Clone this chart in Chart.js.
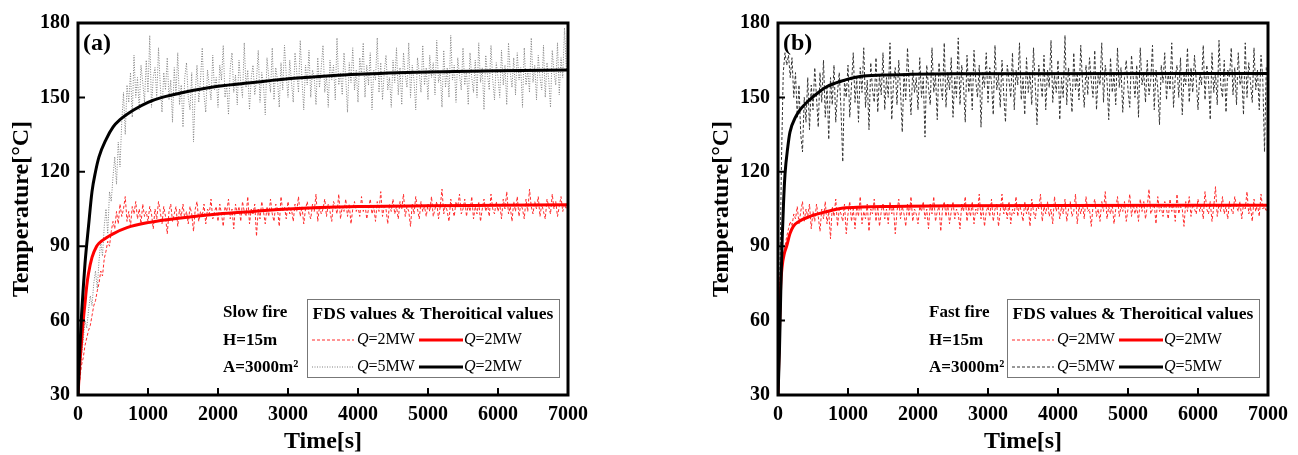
<!DOCTYPE html>
<html>
<head>
<meta charset="utf-8">
<script src="https://cdn.jsdelivr.net/npm/chart.js@4.4.1/dist/chart.umd.min.js"></script>
<style>
  body { margin: 0; background: #fff; }
  canvas { position: absolute; top: 0; }
  #chartA { left: 0; }
  #chartB { left: 700px; }
</style>
</head>
<body>
<canvas id="chartA" width="650" height="455"></canvas>
<canvas id="chartB" width="598" height="455"></canvas>
<script>
// FDS samples every 25 s, 0 .. 7000 s (20 samples per row = 500 s)
const fdsStep = 25;

// (a) slow fire
const aFds2 = [30,36,42,45,50,53,56,58,62,66,68,72,75,80,78,85,88,92,90,96,
  100,97,104,99,107,102,105,110,100,104,98,106,103,108,101,105,99,107,102,104,
  100,106,103,97,105,101,108,104,99,106,102,95,104,107,100,103,106,98,105,102,
  107,101,104,99,106,103,96,105,108,100,104,102,107,99,105,103,109,101,104,106,
  100,107,103,98,106,104,109,101,105,97,107,103,106,100,108,104,102,110,99,105,
  103,107,94,105,101,108,104,99,106,102,109,103,100,107,105,98,110,104,106,101,
  108,103,105,100,107,104,110,102,106,99,105,108,103,101,107,104,111,100,106,103,
  105,109,102,107,104,100,108,106,103,111,101,106,104,109,102,107,99,105,108,104,
  106,102,110,104,107,101,105,109,103,106,100,108,104,112,102,106,105,99,107,104,
  109,103,106,101,108,105,111,102,106,104,98,107,103,110,105,101,108,104,106,102,
  107,104,110,102,105,108,101,106,113,103,107,104,100,109,105,102,108,106,111,103,
  105,109,102,107,104,110,101,106,103,108,100,105,109,104,107,102,111,105,103,108,
  104,107,101,109,105,112,103,106,100,108,104,110,102,107,105,101,109,104,113,106,
  103,108,105,110,102,107,104,101,109,106,103,111,105,108,102,106,110,104,107,105,
  107];
const aFds5 = [30,38,46,52,60,57,64,70,66,75,80,73,84,92,86,98,105,95,112,108,
  118,126,115,132,122,140,152,135,155,148,160,142,167,150,158,145,163,156,148,165,
  152,175,146,158,162,150,170,155,144,160,153,166,149,157,140,162,151,168,147,155,
  138,158,164,150,145,160,132,152,163,148,157,170,151,144,161,155,149,167,153,158,
  146,163,157,171,150,155,143,162,168,152,159,147,165,156,150,172,154,161,145,158,
  163,151,157,169,148,160,155,143,166,158,152,170,149,162,157,146,164,153,171,159,
  150,165,156,148,168,160,152,173,157,145,163,155,169,150,161,158,147,166,154,162,
  171,152,159,146,165,157,163,149,174,155,160,151,168,158,144,164,156,170,153,161,
  148,166,159,172,150,163,155,168,145,161,157,174,152,164,149,160,167,153,158,146,
  165,156,170,151,162,147,168,159,154,172,150,163,157,145,166,160,152,171,155,162,
  149,167,158,164,151,173,156,160,146,169,154,162,150,175,157,163,148,166,159,153,
  170,155,161,147,168,158,152,165,150,172,156,162,145,167,159,153,171,157,149,164,
  158,150,169,155,163,147,172,160,154,166,151,168,157,162,146,170,155,161,152,174,
  156,163,149,167,158,153,171,150,164,157,146,169,160,155,172,151,166,158,178,162,
  160];
const aTheoryTime2 = [0,25,50,75,100,125,150,200,267,300,400,500,700,1000,1500,2000,2500,3000,4000,5000,6000,7000];
const aTheory2 = [30,42,51,60,67,74,79,85.5,90,91.2,93.3,95,97.5,99.5,101.5,103,104,105,106,106.3,106.5,106.7];
const aTheoryTime5 = [0,25,50,75,100,150,200,250,300,400,500,600,800,1000,1200,1500,2000,2500,3000,3500,4000,5000,6000,7000];
const aTheory5 = [30,48,62,73,83,98,112,120,126,133,138,141,145,148,150,152,154.5,156,157.5,158.5,159.3,160.2,160.7,161];

// (b) fast fire
const bFds2 = [30,60,78,86,90,94,97,100,98,103,101,106,99,104,108,100,105,102,107,97,
  104,100,107,102,96,105,101,108,99,104,93,106,102,109,98,105,103,100,107,95,
  103,108,100,105,97,106,102,110,99,104,101,107,96,105,103,109,100,106,98,104,
  107,101,105,99,108,103,106,95,104,109,101,106,103,98,107,102,110,100,105,103,
  99,106,104,108,101,105,97,107,103,110,100,104,106,96,105,108,102,107,99,104,
  108,101,105,103,97,107,104,110,100,106,102,108,99,105,103,111,101,106,98,104,
  106,102,109,100,105,107,98,104,111,103,106,101,108,99,105,103,110,102,107,104,
  100,108,103,106,98,109,104,101,107,105,111,100,106,103,108,102,105,99,110,104,
  107,101,106,103,109,100,105,108,102,104,111,99,106,103,107,101,110,104,105,98,
  106,109,102,105,100,108,104,112,101,106,103,107,99,105,110,102,106,104,108,100,
  105,111,102,107,103,106,100,109,104,108,101,106,113,103,105,107,99,110,104,106,
  102,108,105,101,109,104,107,100,111,103,106,105,98,108,104,110,102,107,105,103,
  109,104,107,101,112,105,103,108,100,106,114,102,107,104,110,103,106,101,108,105,
  103,110,106,104,108,101,107,105,112,103,106,100,109,104,107,102,111,105,106,104,
  106];
const bFds5 = [30,75,125,160,168,163,167,158,166,150,160,142,155,135,128,150,140,158,137,155,
  145,162,150,138,160,148,165,142,155,133,158,147,163,140,152,160,145,124,157,150,
  163,142,155,168,148,158,140,162,152,170,146,157,137,164,153,148,166,144,159,151,
  168,145,158,150,172,141,156,162,147,165,153,136,160,149,170,155,143,161,152,158,
  145,166,150,158,134,163,154,147,170,152,159,141,164,155,149,172,146,160,153,166,
  142,158,150,174,147,163,155,140,167,152,160,145,169,157,150,163,138,160,154,168,
  148,162,156,143,171,153,159,146,165,151,140,163,157,150,168,145,161,155,172,149,
  158,143,166,152,160,147,170,155,139,163,157,150,167,145,161,154,173,148,159,152,
  165,141,158,150,175,147,162,155,144,168,153,160,149,171,156,146,163,151,166,157,
  150,169,145,160,155,172,148,163,157,141,166,152,159,147,170,154,162,144,158,165,
  153,146,167,158,150,163,142,170,155,160,148,165,151,157,171,145,161,154,139,163,
  156,168,149,160,153,172,146,158,163,150,166,143,159,155,170,148,162,152,167,157,
  145,160,155,171,149,163,157,141,168,152,160,147,173,155,150,165,144,161,158,170,
  151,162,147,168,155,159,143,172,150,164,156,148,170,153,161,145,167,158,128,162,
  160];
const bTheoryTime2 = [0,20,38,60,90,124,170,219,300,457,700,933,1200,1643,2500,7000];
const bTheory2 = [30,55,74,82,87,90,95,98,100,102,104,105.4,105.8,106,106.3,106.5];
const bTheoryTime5 = [0,20,40,60,80,100,140,171,250,314,450,600,695,900,1171,1500,1886,2500,7000];
const bTheory5 = [30,47,72,93,108,119,130,136,142,145,149,152.5,154.3,156.5,158.4,159,159.3,159.5,159.6];

const xTicks = [0,1000,2000,3000,4000,5000,6000,7000];
const yTicks = [30,60,90,120,150,180];

const SERIF = '"Liberation Serif", "Times New Roman", serif';

function fdsPoints(values) {
  return values.map((v, i) => ({x: i * fdsStep, y: v}));
}
function curvePoints(times, values) {
  return times.map((t, i) => ({x: t, y: values[i]}));
}

// frame, inward ticks, panel label, notes and the two-column legend
const framePlugin = {
  id: 'frame',
  afterDatasetsDraw(chart, args, opts) {
    const {ctx, chartArea: a, scales: {x, y}} = chart;
    ctx.save();
    ctx.strokeStyle = '#000';
    ctx.lineWidth = 2;
    ctx.beginPath();
    x.ticks.forEach(t => {
      const px = x.getPixelForValue(t.value);
      ctx.moveTo(px, a.bottom); ctx.lineTo(px, a.bottom - 7);
    });
    y.ticks.forEach(t => {
      const py = y.getPixelForValue(t.value);
      ctx.moveTo(a.left, py); ctx.lineTo(a.left + 7, py);
    });
    ctx.stroke();
    ctx.lineWidth = 3;
    ctx.strokeRect(a.left, a.top, a.width, a.height);

    // panel label
    ctx.fillStyle = '#000';
    ctx.font = 'bold 24px ' + SERIF;
    ctx.textBaseline = 'middle';
    ctx.textAlign = 'left';
    ctx.fillText(opts.panel, a.left + 5, a.top + 21);

    // notes
    ctx.font = 'bold 17px ' + SERIF;
    opts.notes.forEach((n, i) => ctx.fillText(n, opts.notesX, a.bottom - 82 + i * 27.5));

    // legend box
    const bw = 252, bh = 78;
    const bx = a.right - 9 - bw, by = a.bottom - 18 - bh;
    ctx.lineWidth = 1;
    ctx.strokeStyle = '#777';
    ctx.strokeRect(bx + 0.5, by + 0.5, bw, bh);
    ctx.font = 'bold 17.5px ' + SERIF;
    ctx.textAlign = 'center';
    ctx.fillText('FDS values & Theroitical values', bx + bw / 2, by + 15);
    ctx.textAlign = 'left';

    const ds = chart.data.datasets;
    const cols = [{s: 5, e: 47, t: 50}, {s: 112, e: 156, t: 157}];
    [[0, 1], [2, 3]].forEach((row, r) => {
      const ry = by + 41 + r * 27;
      row.forEach((di, c) => {
        const d = ds[di];
        ctx.save();
        ctx.strokeStyle = d.borderColor;
        ctx.lineWidth = d.borderWidth;
        ctx.setLineDash(d.borderDash || []);
        ctx.beginPath();
        ctx.moveTo(bx + cols[c].s, ry);
        ctx.lineTo(bx + cols[c].e, ry);
        ctx.stroke();
        ctx.restore();
        // label like "Q=2MW" with italic Q
        let tx = bx + cols[c].t;
        ctx.font = 'italic 16px ' + SERIF;
        ctx.fillText('Q', tx, ry);
        tx += ctx.measureText('Q').width;
        ctx.font = '16px ' + SERIF;
        ctx.fillText(d.label.slice(1), tx, ry);
      });
    });
    ctx.restore();
  }
};

function makeChart(id, fds2, fds5, th2t, th2, th5t, th5, labels, fds5Style, plugOpts, rightPad) {
  const datasets = [
    {label: labels[0], data: fdsPoints(fds2), borderColor: '#ff2a2a', borderWidth: 1, borderDash: [3, 2]},
    {label: labels[1], data: curvePoints(th2t, th2), borderColor: '#ff0000', borderWidth: 3, cubicInterpolationMode: 'monotone'},
    {label: labels[2], data: fdsPoints(fds5), borderColor: fds5Style.color, borderWidth: 1, borderDash: fds5Style.dash},
    {label: labels[3], data: curvePoints(th5t, th5), borderColor: '#000000', borderWidth: 3, cubicInterpolationMode: 'monotone'},
  ];
  datasets.forEach(d => { d.pointRadius = 0; d.fill = false; });
  // theory curves on top
  datasets[0].order = 3; datasets[2].order = 2; datasets[1].order = 1; datasets[3].order = 0;

  return new Chart(document.getElementById(id), {
    type: 'line',
    data: {datasets},
    options: {
      responsive: false,
      animation: false,
      layout: {padding: {top: 23, right: rightPad, left: 0, bottom: 0}},
      plugins: {legend: {display: false}, tooltip: {enabled: false}, frame: plugOpts},
      scales: {
        x: {
          type: 'linear', min: 0, max: 7000,
          afterBuildTicks: s => { s.ticks = xTicks.map(v => ({value: v})); },
          afterFit: s => { s.height = 60; },
          grid: {display: false, drawTicks: false},
          border: {display: false},
          ticks: {color: '#000', padding: 8, maxRotation: 0, callback: v => String(v),
                  font: {family: SERIF, size: 20, weight: 'bold'}},
          title: {display: true, text: 'Time[s]', color: '#000', padding: {top: 0, bottom: 1},
                  font: {family: SERIF, size: 24, weight: 'bold', lineHeight: 1}}
        },
        y: {
          type: 'linear', min: 30, max: 180,
          afterBuildTicks: s => { s.ticks = yTicks.map(v => ({value: v})); },
          afterFit: s => { s.width = 78; },
          grid: {display: false, drawTicks: false},
          border: {display: false},
          ticks: {color: '#000', padding: 8, callback: v => String(v),
                  font: {family: SERIF, size: 20, weight: 'bold'}},
          title: {display: true, text: 'Temperature[°C]', color: '#000', padding: {top: 10, bottom: 0},
                  font: {family: SERIF, size: 24, weight: 'bold', lineHeight: 1}}
        }
      }
    },
    plugins: [framePlugin]
  });
}

makeChart('chartA', aFds2, aFds5, aTheoryTime2, aTheory2, aTheoryTime5, aTheory5,
  ['Q=2MW', 'Q=2MW', 'Q=5MW', 'Q=2MW'],
  {color: '#808080', dash: [1, 1.5]},
  {panel: '(a)', notes: ['Slow fire', 'H=15m', 'A=3000m²'], notesX: 223},
  82);

makeChart('chartB', bFds2, bFds5, bTheoryTime2, bTheory2, bTheoryTime5, bTheory5,
  ['Q=2MW', 'Q=2MW', 'Q=5MW', 'Q=5MW'],
  {color: '#333333', dash: [3, 2]},
  {panel: '(b)', notes: ['Fast fire', 'H=15m', 'A=3000m²'], notesX: 229},
  30);
</script>
</body>
</html>
